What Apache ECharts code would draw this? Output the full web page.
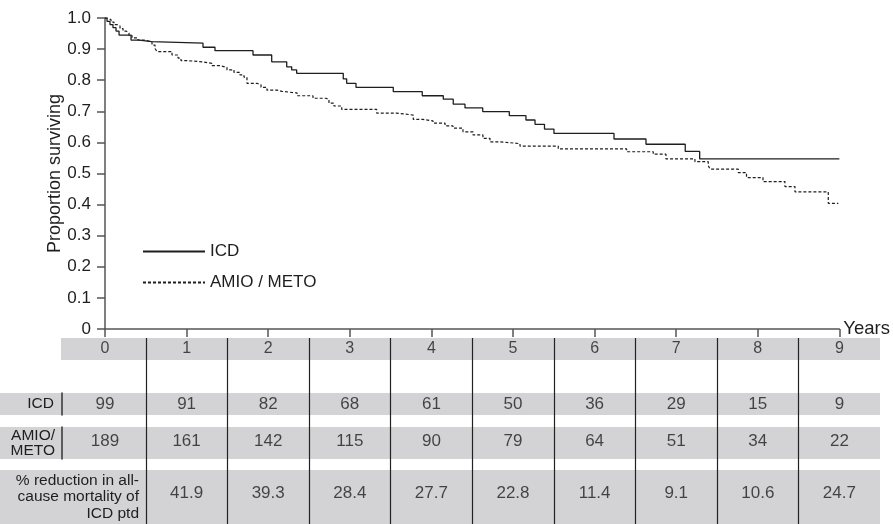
<!DOCTYPE html>
<html>
<head>
<meta charset="utf-8">
<script src="https://cdn.jsdelivr.net/npm/echarts@6/dist/echarts.min.js"></script>
<style>
html,body{margin:0;padding:0;background:#fff;}
#c{width:893px;height:524px;}
</style>
</head>
<body>
<div id="c"></div>
<script>
// ---- data ----
const years = [0,1,2,3,4,5,6,7,8,9];
const icdTimes = [0,0.025,0.061,0.098,0.135,0.172,0.319,0.42,0.57,1.201,1.348,1.814,2.043,2.227,2.288,2.349,2.92,2.962,3.076,3.533,3.888,4.146,4.268,4.412,4.629,4.955,5.159,5.270,5.386,5.502,6.238,6.630,7.111,7.288,9.0];
const icdSurv = [1.0,0.989,0.979,0.969,0.958,0.945,0.929,0.924,0.919,0.906,0.895,0.881,0.859,0.843,0.833,0.822,0.804,0.790,0.777,0.763,0.750,0.739,0.723,0.711,0.699,0.686,0.672,0.658,0.643,0.629,0.611,0.594,0.571,0.547,0.547];
const amioTimes = [0,0.037,0.074,0.110,0.147,0.184,0.221,0.257,0.294,0.331,0.404,0.490,0.576,0.613,0.637,0.821,0.895,0.931,1.005,1.201,1.311,1.409,1.495,1.581,1.654,1.703,1.740,1.863,1.912,1.985,2.108,2.169,2.353,2.549,2.708,2.745,2.806,2.901,3.330,3.575,3.778,3.897,4.020,4.167,4.265,4.387,4.510,4.632,4.718,4.841,5.086,5.555,6.393,6.719,6.875,7.230,7.393,7.414,7.761,7.862,8.064,8.333,8.456,8.864,8.987];
const amioSurv = [1.0,0.994,0.987,0.979,0.974,0.966,0.958,0.952,0.944,0.936,0.929,0.923,0.913,0.902,0.892,0.881,0.871,0.863,0.859,0.854,0.847,0.841,0.833,0.825,0.817,0.810,0.790,0.785,0.777,0.768,0.764,0.759,0.750,0.742,0.738,0.726,0.717,0.706,0.694,0.688,0.674,0.669,0.662,0.653,0.646,0.634,0.624,0.613,0.602,0.596,0.588,0.579,0.570,0.562,0.547,0.538,0.526,0.514,0.503,0.487,0.474,0.458,0.441,0.404,0.404];
const icdAtRisk = [99,91,82,68,61,50,36,29,15,9];
const amioAtRisk = [189,161,142,115,90,79,64,51,34,22];
const reductionYears = [1,2,3,4,5,6,7,8,9];
const reduction = ['41.9','39.3','28.4','27.7','22.8','11.4','9.1','10.6','24.7'];
const dividers = [0.5,1.5,2.5,3.5,4.5,5.5,6.5,7.5,8.5];
const seriesNames = ['ICD','AMIO / METO'];
const rowLabels = ['ICD','AMIO/\nMETO','% reduction in all-\ncause mortality of\nICD ptd'];

// ---- layout ----
const FONT = "'Liberation Sans', Arial, Helvetica, sans-serif";
const INK = '#1e1e1e';
const AX = '#555';
const BAND = '#d3d3d5';
const plotL = 105, plotT = 18, plotW = 734.4, plotH = 311;
const pxPerYear = plotW / 9;
const minFrom = (left) => -(plotL - left) / pxPerYear;
const maxFrom = (right) => 9 + (right - (plotL + plotW)) / pxPerYear;

const chart = echarts.init(document.getElementById('c'), null, {renderer:'canvas'});

function bandGrid(left, top, height){
  return {left:left, top:top, width:880-left, height:height, show:true, backgroundColor:BAND, borderWidth:0, containLabel:false};
}
function hiddenX(gridIndex, left){
  return {type:'value', gridIndex:gridIndex, min:minFrom(left), max:maxFrom(880), show:false};
}
function rowAxis(gridIndex, label, offset, withLine, margin, lineHeight){
  return {type:'category', gridIndex:gridIndex, data:[label], offset:offset, position:'left',
    axisLine:{show:withLine, onZero:false, lineStyle:{color:'#333', width:1.5}}, axisTick:{show:false},
    axisLabel:{show:true, margin:margin, fontSize:15.5, lineHeight:lineHeight, color:INK, fontFamily:FONT, align:'right'}};
}
function textSeries(name, xi, xs, texts, size, offsetY){
  return {
    type:'scatter', name:name, xAxisIndex:xi, yAxisIndex:xi, symbolSize:1, silent:true,
    itemStyle:{color:'rgba(0,0,0,0)'},
    data: xs.map((x,i)=>[x, 0, String(texts[i])]),
    label:{show:true, position:'inside', offset:[0, offsetY], formatter:(p)=>p.data[2], color:INK, fontSize:size, fontFamily:FONT}
  };
}

const option = {
  animation:false,
  backgroundColor:'#fff',
  textStyle:{fontFamily:FONT},
  grid:[
    {left:plotL, top:plotT, width:plotW, height:plotH, containLabel:false},
    bandGrid(61, 338, 22),
    bandGrid(0, 393, 22),
    bandGrid(0, 427, 32),
    bandGrid(0, 470, 54),
    {left:plotL, top:338, width:plotW, height:186, containLabel:false}
  ],
  legend:{
    left:142, top:243, orient:'vertical', padding:0, itemWidth:62, itemHeight:14, itemGap:14,
    itemStyle:{opacity:0},
    textStyle:{fontSize:17, color:INK, fontFamily:FONT},
    data:seriesNames
  },
  xAxis:[
    {type:'value', gridIndex:0, min:0, max:9, interval:1,
     name:'Years', nameLocation:'end', nameGap:4,
     nameTextStyle:{fontSize:18.5, color:INK, fontFamily:FONT, verticalAlign:'middle', padding:[0,0,5,0]},
     axisLine:{show:true, lineStyle:{color:AX, width:1.5}},
     axisTick:{show:true, inside:false, length:8, lineStyle:{color:AX, width:1.5}},
     axisLabel:{show:false}, splitLine:{show:false}},
    hiddenX(1, 61),
    hiddenX(2, 0),
    hiddenX(3, 0),
    hiddenX(4, 0),
    {type:'value', gridIndex:5, min:0, max:9, show:false}
  ],
  yAxis:[
    {type:'value', gridIndex:0, min:0, max:1, interval:0.1,
     name:'Proportion surviving', nameLocation:'middle', nameGap:41, nameRotate:90, nameMoveOverlap:false,
     nameTextStyle:{fontSize:18, color:INK, fontFamily:FONT},
     axisLine:{show:true, lineStyle:{color:AX, width:1.5}},
     axisTick:{show:true, inside:false, length:8, lineStyle:{color:AX, width:1.5}},
     axisLabel:{show:true, margin:14, fontSize:17, color:INK, fontFamily:FONT,
       formatter:(v)=> Math.abs(v)<1e-9 ? '0' : v.toFixed(1)},
     splitLine:{show:false}},
    {type:'value', gridIndex:1, min:-1, max:1, show:false},
    rowAxis(2, rowLabels[0], -62, true, 8, 16),
    rowAxis(3, rowLabels[1], -62, true, 7, 14.5),
    rowAxis(4, rowLabels[2], -143, false, 4, 16.7),
    {type:'value', gridIndex:5, min:0, max:1, show:false}
  ],
  series:[
    {type:'line', name:seriesNames[0], xAxisIndex:0, yAxisIndex:0, step:'end', symbol:'none', showSymbol:false,
     lineStyle:{color:INK, width:1.3, type:'solid'}, itemStyle:{color:INK},
     data: icdTimes.map((t,i)=>[t, icdSurv[i]])},
    {type:'line', name:seriesNames[1], xAxisIndex:0, yAxisIndex:0, step:'end', symbol:'none', showSymbol:false,
     lineStyle:{color:INK, width:1.2, type:[3,2]}, itemStyle:{color:INK},
     data: amioTimes.map((t,i)=>[t, amioSurv[i]])},
    textSeries('years', 1, years, years, 16, 0),
    textSeries('icdRisk', 2, years, icdAtRisk, 17, 0),
    textSeries('amioRisk', 3, years, amioAtRisk, 17, -2),
    textSeries('reduction', 4, reductionYears, reduction, 17, -4),
    {type:'scatter', name:'dividers', xAxisIndex:5, yAxisIndex:5, symbolSize:0, silent:true,
     data: dividers.map(d=>[d, 0.5]),
     markLine:{silent:true, symbol:['none','none'], label:{show:false},
       lineStyle:{color:'#222', width:1.2, type:'solid'},
       data: dividers.map(d=>({xAxis:d}))}}
  ]
};
chart.setOption(option);
</script>
</body>
</html>
